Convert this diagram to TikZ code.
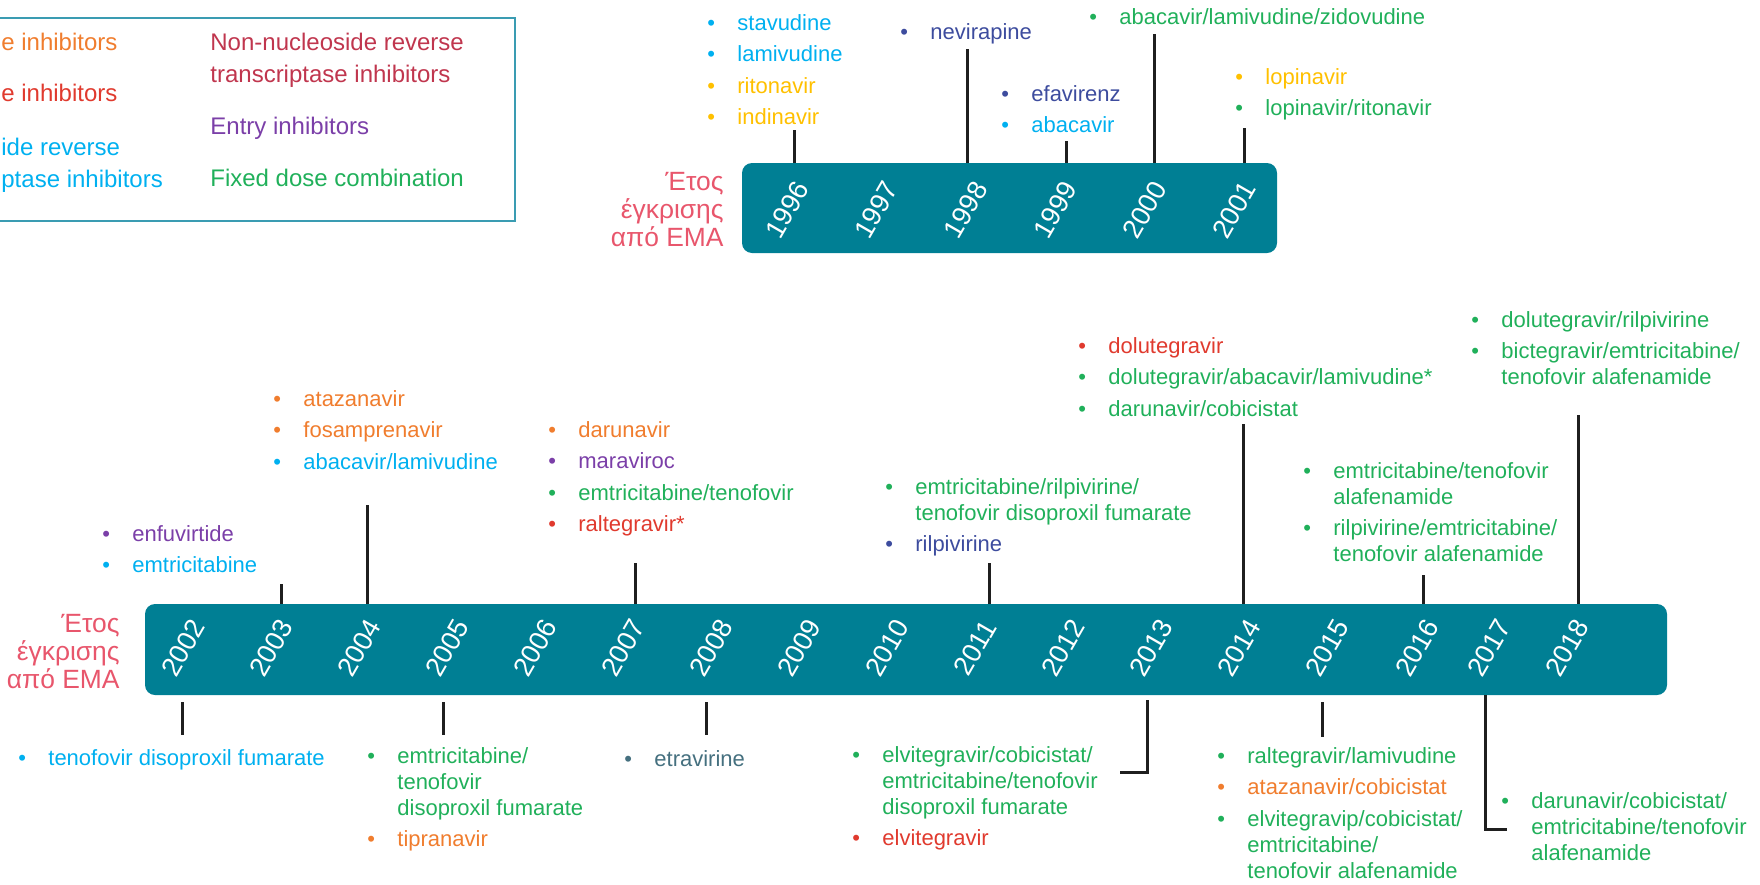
\documentclass[tikz,border=0pt]{standalone}
\usepackage{fontspec}
\setmainfont{Liberation Sans}

\definecolor{barteal}{HTML}{007F94}
\definecolor{legframe}{HTML}{3A9CB2}
\definecolor{emared}{HTML}{E8566C}
\definecolor{nrti}{HTML}{00B0F0}
\definecolor{pigold}{HTML}{FFC000}
\definecolor{piorange}{HTML}{F07D2E}
\definecolor{insti}{HTML}{E03A2E}
\definecolor{nnrti}{HTML}{3D4C9E}
\definecolor{nnrtileg}{HTML}{C0364E}
\definecolor{entry}{HTML}{7B3FA8}
\definecolor{fdc}{HTML}{20B05A}
\definecolor{etrav}{HTML}{45707F}

% one bulleted drug, and a wrapped continuation line
\newcommand{\itemline}[2]{\llap{\makebox[15pt][l]{\textcolor{#1}{\textbullet}}}\textcolor{#1}{#2}}
\newcommand{\moreline}[2]{\textcolor{#1}{#2}}

\tikzset{
  timebar/.style={fill=barteal, rounded corners=5pt},
  yearlbl/.style={text=white, font=\fontsize{13.5}{13.5}\selectfont, rotate=60, inner sep=0pt},
  stem/.style={line width=1.5pt, draw=black!88},
  druglist/.style={anchor=north west, inner sep=0pt, yshift=-1pt, align=left, font=\fontsize{11}{13}\selectfont},
  legtext/.style={anchor=north west, inner sep=0pt, align=left, font=\fontsize{12}{16}\selectfont},
  emalabel/.style={anchor=east, inner sep=0pt, align=right, text=emared, font=\fontsize{13.2}{14}\selectfont},
}

\begin{document}
\begin{tikzpicture}[x=0.5pt, y=-0.5pt]
        \useasboundingbox (0,0) rectangle (1760,884);

        % Legend
        \draw[legframe, line width=1.2pt] (-10,18) rectangle (515,221);
        \node[legtext, text=piorange] (legpi) at (1,33) {e inhibitors};
        \node[legtext, text=insti] (legii) at (1,84) {e inhibitors};
        \node[legtext, text=nrti] (legnrti) at (1,138) {ide reverse};
        \node[legtext, text=nrti] (legnrtib) at (1,170) {ptase inhibitors};
        \node[legtext, text=nnrtileg] (legnnrti) at (210,33) {Non-nucleoside reverse\\transcriptase inhibitors};
        \node[legtext, text=entry] (legentry) at (210,117) {Entry inhibitors};
        \node[legtext, text=fdc] (legfdc) at (210,169) {Fixed dose combination};

        % Upper timeline 1996-2001
        \fill[timebar] (742,163) rectangle (1277,253);
        \coordinate (topN) at (0,163);
        \node[emalabel] (ematop) at (724,210) {Έτος\\έγκρισης\\από EMA};
        \foreach \yr [count=\i from 0] in {1996,...,2001}
            \node[yearlbl] (y\yr) at ({787+89.4*\i},210) {\yr};

        % Lower timeline 2002-2018
        \fill[timebar] (145,604) rectangle (1667,695);
        \coordinate (botN) at (0,604);
        \coordinate (botS) at (0,695);
        \coordinate (below) at (0,702);
        \node[emalabel] (emabot) at (120,652) {Έτος\\έγκρισης\\από EMA};
        \foreach \yr/\xx in {2002/183,2003/271,2004/359,2005/447,2006/535,2007/623,
                             2008/711,2009/799,2010/887,2011/975,2012/1063,2013/1151,
                             2014/1239,2015/1327,2016/1417,2017/1489,2018/1567}
            \node[yearlbl] (y\yr) at (\xx,648) {\yr};

        % Approvals 1996-2001
        \node[druglist] (g1996) at (737,12) {\itemline{nrti}{stavudine}\\[2.7pt]
            \itemline{nrti}{lamivudine}\\[2.7pt]\itemline{pigold}{ritonavir}\\[2.7pt]
            \itemline{pigold}{indinavir}};
        \node[druglist] (g1998) at (930,21) {\itemline{nnrti}{nevirapine}};
        \node[druglist] (g1999) at (1031,83) {\itemline{nnrti}{efavirenz}\\[2.7pt]
            \itemline{nrti}{abacavir}};
        \node[druglist] (g2000) at (1119,6) {\itemline{fdc}{abacavir/lamivudine/zidovudine}};
        \node[druglist] (g2001) at (1265,66) {\itemline{pigold}{lopinavir}\\[2.7pt]
            \itemline{fdc}{lopinavir/ritonavir}};

        \coordinate (k1996) at (794,130);
        \coordinate (k1998) at (967,49);
        \coordinate (k1999) at (1066,141);
        \coordinate (k2000) at (1154,34);
        \coordinate (k2001) at (1244,128);
        \foreach \k in {1996,1998,1999,2000,2001}
            \draw[stem] (k\k) -- (k\k |- topN);

        % Approvals 2002-2018, above the bar
        \node[druglist] (g2003) at (132,523) {\itemline{entry}{enfuvirtide}\\[2.7pt]
            \itemline{nrti}{emtricitabine}};
        \node[druglist] (g2004) at (303,388) {\itemline{piorange}{atazanavir}\\[2.7pt]
            \itemline{piorange}{fosamprenavir}\\[2.7pt]\itemline{nrti}{abacavir/lamivudine}};
        \node[druglist] (g2007) at (578,419) {\itemline{piorange}{darunavir}\\[2.7pt]
            \itemline{entry}{maraviroc}\\[2.7pt]\itemline{fdc}{emtricitabine/tenofovir}\\[2.7pt]
            \itemline{insti}{raltegravir*}};
        \node[druglist] (g2011) at (915,476) {\itemline{fdc}{emtricitabine/rilpivirine/}\\
            \moreline{fdc}{tenofovir disoproxil fumarate}\\[2.7pt]\itemline{nnrti}{rilpivirine}};
        \node[druglist] (g2014) at (1108,335) {\itemline{insti}{dolutegravir}\\[2.7pt]
            \itemline{fdc}{dolutegravir/abacavir/lamivudine*}\\[2.7pt]
            \itemline{fdc}{darunavir/cobicistat}};
        \node[druglist] (g2016) at (1333,460) {\itemline{fdc}{emtricitabine/tenofovir}\\
            \moreline{fdc}{alafenamide}\\[2.7pt]\itemline{fdc}{rilpivirine/emtricitabine/}\\
            \moreline{fdc}{tenofovir alafenamide}};
        \node[druglist] (g2018) at (1501,309) {\itemline{fdc}{dolutegravir/rilpivirine}\\[2.7pt]
            \itemline{fdc}{bictegravir/emtricitabine/}\\\moreline{fdc}{tenofovir alafenamide}};

        \coordinate (k2003) at (281,584);
        \coordinate (k2004) at (367,505);
        \coordinate (k2007) at (635,563);
        \coordinate (k2011) at (989,563);
        \coordinate (k2014) at (1243,424);
        \coordinate (k2016) at (1423,575);
        \coordinate (k2018) at (1578,415);
        \foreach \k in {2003,2004,2007,2011,2014,2016,2018}
            \draw[stem] (k\k) -- (k\k |- botN);

        % Approvals 2002-2018, below the bar
        \node[druglist] (g2002) at (48,747) {\itemline{nrti}{tenofovir disoproxil fumarate}};
        \node[druglist] (g2005) at (397,745) {\itemline{fdc}{emtricitabine/}\\
            \moreline{fdc}{tenofovir}\\\moreline{fdc}{disoproxil fumarate}\\[2.7pt]
            \itemline{piorange}{tipranavir}};
        \node[druglist] (g2008) at (654,748) {\itemline{etrav}{etravirine}};
        \node[druglist] (g2013) at (882,744) {\itemline{fdc}{elvitegravir/cobicistat/}\\
            \moreline{fdc}{emtricitabine/tenofovir}\\\moreline{fdc}{disoproxil fumarate}\\[2.7pt]
            \itemline{insti}{elvitegravir}};
        \node[druglist] (g2015) at (1247,745) {\itemline{fdc}{raltegravir/lamivudine}\\[2.7pt]
            \itemline{piorange}{atazanavir/cobicistat}\\[2.7pt]
            \itemline{fdc}{elvitegravip/cobicistat/}\\\moreline{fdc}{emtricitabine/}\\
            \moreline{fdc}{tenofovir alafenamide}};
        \node[druglist] (g2017) at (1531,790) {\itemline{fdc}{darunavir/cobicistat/}\\
            \moreline{fdc}{emtricitabine/tenofovir}\\\moreline{fdc}{alafenamide}};

        \coordinate (k2002) at (182,735);
        \coordinate (k2005) at (443,735);
        \coordinate (k2008) at (706,735);
        \coordinate (k2015) at (1322,737);
        \foreach \k in {2002,2005,2008,2015}
            \draw[stem] (k\k |- below) -- (k\k);

        % Elbow stems for 2013 and 2017
        \coordinate (k2013) at (1120,772);
        \coordinate (k2017) at (1507,829);
        \draw[stem] (1147,700) |- (k2013);
        \draw[stem] (1485,695) |- (k2017);

\end{tikzpicture}
\end{document}
